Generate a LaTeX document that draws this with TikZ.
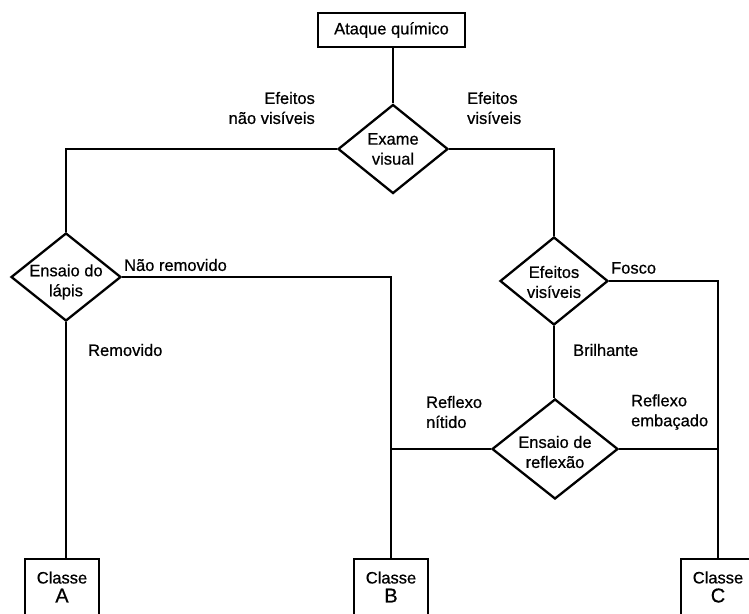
\documentclass[tikz,border=0pt]{standalone}
\usepackage{fontspec}
\setmainfont[FakeBold=0.6]{Liberation Sans}
\usetikzlibrary{shapes.geometric}
\begin{document}
\begin{tikzpicture}[x=1pt,y=-1pt,
  line width=2.3pt,
  every node/.style={font=\fontsize{16.5}{20}\selectfont},
  stepbox/.style={draw, rectangle, inner sep=0pt},
  decision/.style={draw, diamond, inner sep=0pt},
  classbox/.style={draw, rectangle, inner sep=0pt, minimum width=74pt, minimum height=56pt, align=center},
  lbl/.style={inner sep=0pt}]
\useasboundingbox (0,0) rectangle (749,613);
\clip (0,0) rectangle (749,613);

% process box and decisions
\node[stepbox, minimum width=147pt, minimum height=34pt] (ataque) at (391.5,30) {Ataque químico};
\node[decision, minimum width=110pt, minimum height=89pt,
      label={[align=center,lbl]center:Exame\\visual}] (exame) at (393,149) {};
\node[decision, minimum width=110pt, minimum height=88pt,
      label={[align=center,lbl,yshift=-5pt]center:Ensaio do\\lápis}] (lapis) at (66,277) {};
\node[decision, minimum width=108pt, minimum height=88pt,
      label={[align=center,lbl,yshift=-1pt]center:Efeitos\\visíveis}] (efeitos) at (554,281) {};
\node[decision, minimum width=126pt, minimum height=100pt,
      label={[align=center,lbl,yshift=-3pt]center:Ensaio de\\reflexão}] (reflexao) at (555,449) {};

% result classes
\node[classbox] (classA) at (62,587) {Classe\\[-1pt]{\fontsize{20}{20}\selectfont A}};
\node[classbox] (classB) at (391,587) {Classe\\[-1pt]{\fontsize{20}{20}\selectfont B}};
\node[classbox] (classC) at (718,587) {Classe\\[-1pt]{\fontsize{20}{20}\selectfont C}};

% branch labels
\node[lbl, align=right, anchor=east] (naovis) at (316,108) {Efeitos\\não visíveis};
\node[lbl, align=left, anchor=west] (vis) at (466,108) {Efeitos\\visíveis};
\node[lbl, anchor=west] (naorem) at (123,265) {Não removido};
\node[lbl, anchor=west] (rem) at (87,350) {Removido};
\node[lbl, anchor=west] (fosco) at (610,268) {Fosco};
\node[lbl, anchor=west] (brilh) at (572,350) {Brilhante};
\node[lbl, align=left, anchor=west] (nitido) at (425,412) {Reflexo\\nítido};
\node[lbl, align=left, anchor=west] (embac) at (630,412) {Reflexo\\embaçado};

% connectors
\draw (ataque.south -| exame.north) -- (exame.north);
\draw (exame.west) -| (lapis.north);
\draw (exame.east) -| (efeitos.north);
\draw (lapis.east) -| (classB.north);
\draw (lapis.south) -- (lapis.south |- classA.north);
\draw (efeitos.east) -| (classC.north);
\draw (efeitos.south) -- (efeitos.south |- reflexao.north);
\draw (reflexao.west) -- (reflexao.west -| classB.north);
\draw (reflexao.east) -- (reflexao.east -| classC.north);
\end{tikzpicture}
\end{document}
